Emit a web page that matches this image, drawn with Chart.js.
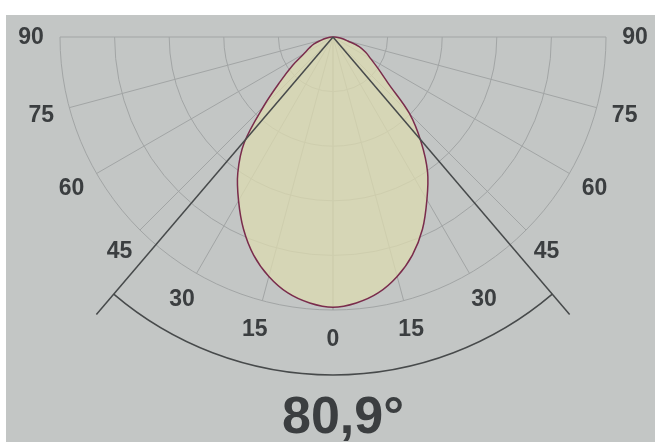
<!DOCTYPE html>
<html>
<head>
<meta charset="utf-8">
<script src="https://cdn.jsdelivr.net/npm/chart.js@4.4.0/dist/chart.umd.min.js"></script>
<style>
  html, body { margin: 0; padding: 0; background: #ffffff; }
  #wrap { width: 655px; height: 442px; position: relative; }
</style>
</head>
<body>
<div id="wrap"><canvas id="polar" width="655" height="442"></canvas></div>
<script>
// angles measured from the downward vertical, in degrees
const angles = [0, 5, 10, 15, 20, 25, 30, 35, 40, 45, 50, 55, 60, 65, 70, 75, 80, 85, 90];
// relative intensity, left half (C180) and right half (C0)
const leftValues  = [495, 489, 476, 454, 425, 388, 346, 304, 253, 180, 125, 90, 62, 48, 37, 22, 13, 6, 0];
const rightValues = [495, 489, 476, 454, 425, 388, 344, 302, 251, 198, 132, 101, 80, 66, 51, 28, 18, 9, 0];
// grid rings and angle labels
const rings = [100, 200, 300, 400, 500];
const gridAngles = [0, 15, 30, 45, 60, 75, 90];
const beamAngle = 80.9;
const beamLabel = '80,9°';

const ringMax = 500;
const labelRadius = 553;   // where the angle numbers sit
const beamArcRadius = 619;
const beamLineLength = 668;

const rad = a => a * Math.PI / 180;

// build the closed curve: left half from 90 down to 0, then right half 0 up to 90
const curve = [];
for (let i = angles.length - 1; i >= 0; i--) {
    curve.push({ x: -leftValues[i] * Math.sin(rad(angles[i])), y: -leftValues[i] * Math.cos(rad(angles[i])) });
}
for (let i = 1; i < angles.length; i++) {
    curve.push({ x: rightValues[i] * Math.sin(rad(angles[i])), y: -rightValues[i] * Math.cos(rad(angles[i])) });
}

// helpers to go from polar (angle from down, value) to canvas pixels
function toPixel(chart, angle, value, side) {
    const xs = chart.scales.x, ys = chart.scales.y;
    return {
        x: xs.getPixelForValue(side * value * Math.sin(rad(angle))),
        y: ys.getPixelForValue(-value * Math.cos(rad(angle)))
    };
}

const polarGrid = {
    id: 'polarGrid',
    beforeDraw(chart) {
        const ctx = chart.ctx;
        ctx.save();
        ctx.fillStyle = '#ffffff';
        ctx.fillRect(0, 0, chart.width, chart.height);
        ctx.fillStyle = '#c3c6c5';
        ctx.fillRect(6, 15, chart.width - 6, chart.height - 15);
        ctx.restore();
    },
    beforeDatasetsDraw(chart) {
        const ctx = chart.ctx;
        const o = toPixel(chart, 0, 0, 1);
        const xs = chart.scales.x;
        ctx.save();
        ctx.strokeStyle = '#a2a5a5';
        ctx.lineWidth = 1;
        rings.forEach(r => {
            const pr = xs.getPixelForValue(r) - xs.getPixelForValue(0);
            ctx.beginPath();
            ctx.arc(o.x, o.y, pr, 0, Math.PI);
            ctx.stroke();
        });
        [-1, 1].forEach(side => {
            gridAngles.forEach(a => {
                const p = toPixel(chart, a, ringMax, side);
                ctx.beginPath();
                ctx.moveTo(o.x, o.y);
                ctx.lineTo(p.x, p.y);
                ctx.stroke();
            });
        });
        ctx.restore();
    },
    afterDatasetsDraw(chart) {
        const ctx = chart.ctx;
        const o = toPixel(chart, 0, 0, 1);
        const xs = chart.scales.x;
        const half = beamAngle / 2;
        ctx.save();
        // beam lines and arc
        ctx.strokeStyle = '#474a4b';
        ctx.lineWidth = 1.5;
        [-1, 1].forEach(side => {
            const p = toPixel(chart, half, beamLineLength, side);
            ctx.beginPath();
            ctx.moveTo(o.x, o.y);
            ctx.lineTo(p.x, p.y);
            ctx.stroke();
        });
        const ar = xs.getPixelForValue(beamArcRadius) - xs.getPixelForValue(0);
        ctx.beginPath();
        ctx.arc(o.x, o.y, ar, rad(90 - half), rad(90 + half));
        ctx.stroke();

        // angle labels
        ctx.fillStyle = '#3b3e40';
        ctx.font = 'bold 23px "Liberation Sans", Arial, sans-serif';
        ctx.textAlign = 'center';
        ctx.textBaseline = 'middle';
        [-1, 1].forEach(side => {
            gridAngles.forEach(a => {
                if (a === 0 && side === 1) return;
                const p = toPixel(chart, a, labelRadius, side);
                ctx.fillText(String(a), p.x, p.y + 1);
            });
        });

        // beam angle caption
        ctx.font = 'bold 52px "Liberation Sans", Arial, sans-serif';
        ctx.textBaseline = 'alphabetic';
        ctx.fillText(beamLabel, o.x + 10, 433);
        ctx.restore();
    }
};

const pxPerUnit = 273 / ringMax;
const originX = 333, originY = 37;

new Chart(document.getElementById('polar').getContext('2d'), {
    type: 'scatter',
    data: {
        datasets: [{
            data: curve,
            showLine: true,
            fill: 'shape',
            backgroundColor: 'rgba(220, 219, 176, 0.75)',
            borderColor: '#7a2c4c',
            borderWidth: 1.5,
            tension: 0.35,
            pointRadius: 0,
        }]
    },
    options: {
        responsive: false,
        animation: false,
        layout: { padding: 0 },
        plugins: {
            legend: { display: false },
            tooltip: { enabled: false },
        },
        scales: {
            x: {
                display: false,
                min: -originX / pxPerUnit,
                max: (655 - originX) / pxPerUnit,
            },
            y: {
                display: false,
                min: -(442 - originY) / pxPerUnit,
                max: originY / pxPerUnit,
            },
        },
    },
    plugins: [polarGrid]
});
</script>
</body>
</html>
